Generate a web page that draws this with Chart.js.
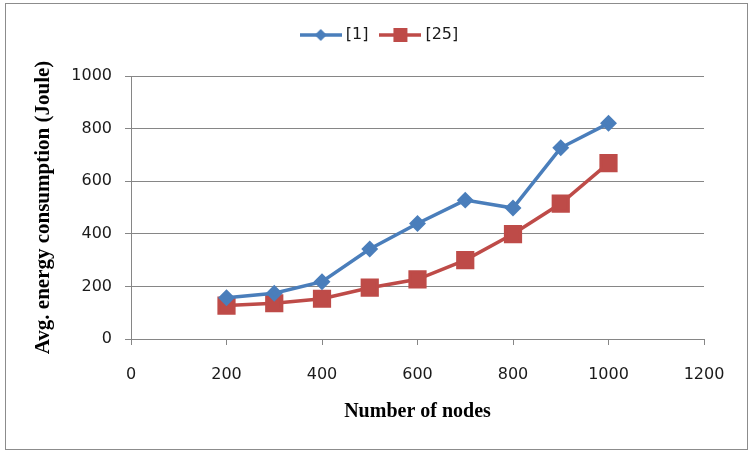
<!DOCTYPE html>
<html>
<head>
<meta charset="utf-8">
<script src="https://cdn.jsdelivr.net/npm/chart.js@4.4.1/dist/chart.umd.min.js"></script>
<style>
  html, body { margin: 0; padding: 0; background: #fff; }
  #wrap { width: 754px; height: 455px; position: relative; }
</style>
</head>
<body>
<div id="wrap"><canvas id="energyChart"></canvas></div>
<script>
// values
let nodes = [200, 300, 400, 500, 600, 700, 800, 900, 1000];
let ref1 = [157, 174, 218, 342, 439, 528, 498, 727, 820];
let ref25 = [127, 136, 153, 195, 227, 300, 399, 515, 669];
let seriesNames = ["[1]", "[25]"];

let blue = "#4A7EBB";
let red = "#BE4B48";

// legend swatch: short line with the marker in the middle
let makeSwatch = function(color, shape) {
    let c = document.createElement("canvas");
    c.width = 42;
    c.height = 16;
    let g = c.getContext("2d");
    g.strokeStyle = color;
    g.lineWidth = 3.5;
    g.beginPath();
    g.moveTo(0, 8);
    g.lineTo(42, 8);
    g.stroke();
    g.fillStyle = color;
    g.beginPath();
    if (shape == "diamond") {
        g.moveTo(21, 2); g.lineTo(27, 8); g.lineTo(21, 14); g.lineTo(15, 8);
    } else {
        g.rect(14, 1, 14, 14);
    }
    g.closePath();
    g.fill();
    return c;
};

let toPoints = function(xs, ys) {
    let out = [];
    for (let i = 0; i < xs.length; i++) out.push({x: xs[i], y: ys[i]});
    return out;
};

let frame = {
    id: "frame",
    beforeInit: function(chart) {
        // legend keeps its items where they are, but reserves room down to the plot
        let fit = chart.legend.fit;
        chart.legend.fit = function() {
            fit.call(this);
            this.height = 64;
        };
    },
    afterLayout: function(chart) {
        chart.legend.left += 24;
        chart.legend.right += 24;
    },
    beforeDraw: function(chart) {
        let c = chart.ctx;
        c.save();
        c.fillStyle = "#fff";
        c.fillRect(0, 0, chart.width, chart.height);
        c.restore();
    },
    afterDraw: function(chart) {
        let c = chart.ctx;
        c.save();
        c.strokeStyle = "#8c8c8c";
        c.lineWidth = 1;
        c.strokeRect(5.5, 3.5, 742, 446);
        c.restore();
    }
};

let tickFont = {family: "DejaVu Sans", size: 16};
let plain = function(v) { return String(v); };

let ctx = document.getElementById("energyChart").getContext("2d");

let energyChart = new Chart(ctx, {
    type: "line",
    data: {
        datasets: [{
            label: seriesNames[0],
            data: toPoints(nodes, ref1),
            borderColor: blue,
            backgroundColor: blue,
            borderWidth: 3.5,
            pointStyle: "rectRot",
            pointRadius: 6,
            pointHoverRadius: 6,
            tension: 0
        }, {
            label: seriesNames[1],
            data: toPoints(nodes, ref25),
            borderColor: red,
            backgroundColor: red,
            borderWidth: 3.5,
            pointStyle: "rect",
            pointRadius: 10.4,
            pointHoverRadius: 10.4,
            tension: 0
        }]
    },
    options: {
        responsive: true,
        maintainAspectRatio: false,
        animation: false,
        layout: {padding: {left: 10, right: 50, top: 12, bottom: 20}},
        plugins: {
            tooltip: {enabled: false},
            legend: {
                position: "top",
                labels: {
                    usePointStyle: true,
                    pointStyleWidth: 34,
                    boxHeight: 14,
                    padding: 15,
                    color: "#1a1a1a",
                    font: tickFont,
                    generateLabels: function(chart) {
                        return [
                            {text: seriesNames[0], pointStyle: makeSwatch(blue, "diamond"), fillStyle: blue, strokeStyle: blue, lineWidth: 0, datasetIndex: 0, fontColor: "#1a1a1a"},
                            {text: seriesNames[1], pointStyle: makeSwatch(red, "square"), fillStyle: red, strokeStyle: red, lineWidth: 0, datasetIndex: 1, fontColor: "#1a1a1a"}
                        ];
                    }
                }
            }
        },
        scales: {
            x: {
                type: "linear",
                min: 0,
                max: 1200,
                ticks: {stepSize: 200, color: "#1a1a1a", padding: 20, font: tickFont, maxRotation: 0, callback: plain},
                grid: {drawOnChartArea: false, drawTicks: true, tickLength: 6, color: "#868686"},
                border: {color: "#868686", width: 1},
                title: {display: true, text: "Number of nodes", color: "#000", padding: {top: 0, bottom: 11}, font: {family: "Liberation Serif", size: 20, weight: "bold"}},
                afterFit: function(scale) { scale.height = 96; }
            },
            y: {
                min: 0,
                max: 1000,
                ticks: {stepSize: 200, color: "#1a1a1a", padding: 13, font: tickFont, callback: plain},
                grid: {drawTicks: true, tickLength: 6, color: "#868686"},
                border: {color: "#868686", width: 1},
                title: {display: true, text: "Avg. energy consumption (Joule)", color: "#000", padding: {top: 21, bottom: 0}, font: {family: "Liberation Serif", size: 21, weight: "bold"}},
                afterFit: function(scale) { scale.width = 121; }
            }
        }
    },
    plugins: [frame]
});
</script>
</body>
</html>
